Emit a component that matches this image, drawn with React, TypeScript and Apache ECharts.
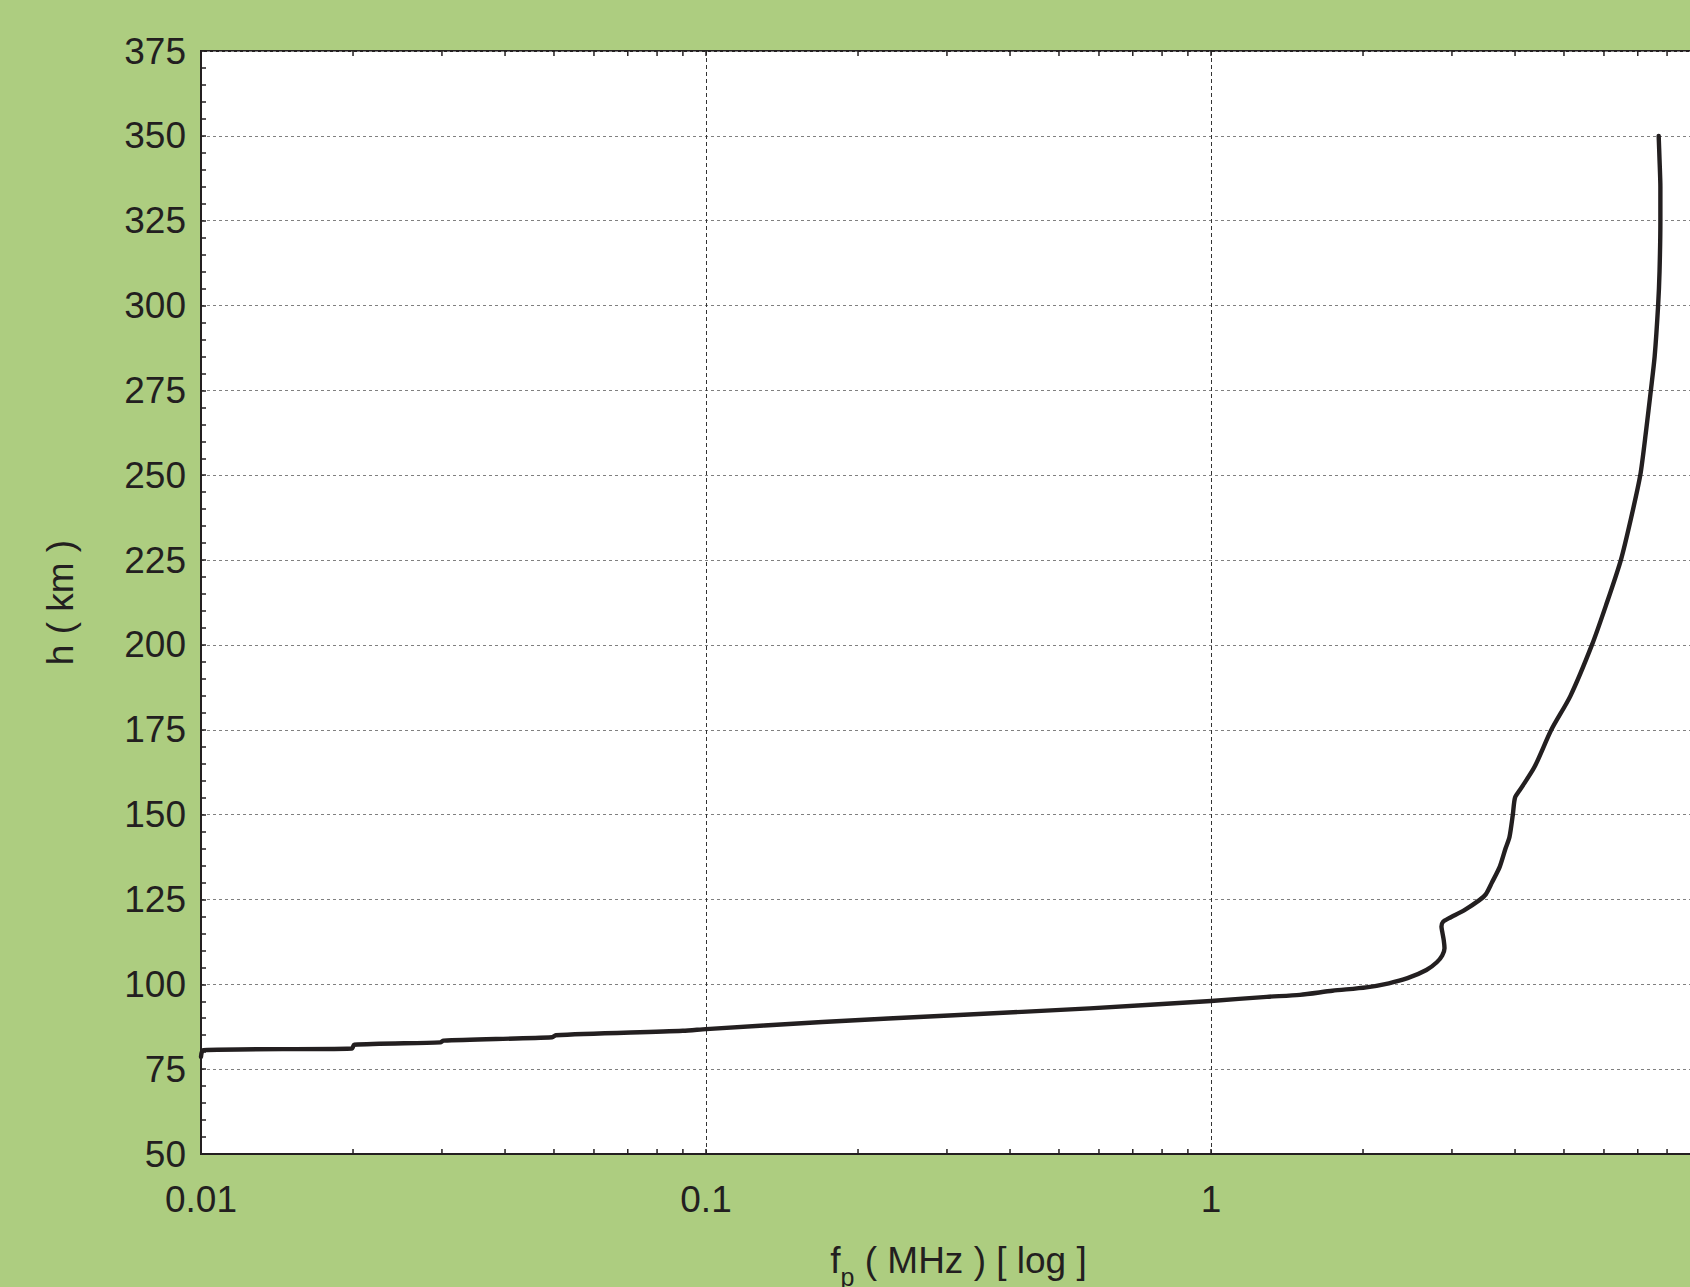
import React, { useEffect, useRef } from 'react';
import * as echarts from 'echarts';

// Plasma frequency (MHz) vs height (km)
const freqMHz = [
  0.0100, 0.0101, 0.0199, 0.0201, 0.0298, 0.0302, 0.0496, 0.0504, 0.09, 0.1,
  0.17, 0.31, 0.575, 1.0, 1.29, 1.5, 1.74, 2.03, 2.25, 2.45,
  2.67, 2.80, 2.87, 2.90, 2.89, 2.87, 2.86, 2.88, 2.96, 3.17,
  3.40, 3.50, 3.60, 3.73, 3.83, 3.90, 3.96, 4.00, 4.10, 4.37,
  4.72, 5.15, 5.68, 6.06, 6.48, 6.79, 7.08, 7.27, 7.43, 7.56,
  7.68, 7.73, 7.76, 7.76, 7.73, 7.70,
];
const heightKm = [
  78.6, 80.6, 81.1, 82.2, 82.9, 83.4, 84.4, 85.0, 86.3, 86.8,
  88.9, 90.9, 92.9, 95.1, 96.3, 96.9, 98.1, 99.1, 100.3, 101.8,
  104.2, 106.5, 108.5, 110.6, 113.0, 115.5, 117.0, 118.4, 119.5, 121.8,
  124.8, 126.5, 130.0, 134.6, 140.0, 143.4, 150.0, 155.0, 157.5, 164.0,
  175.0, 185.0, 200.0, 211.8, 225.0, 237.4, 250.0, 263.1, 275.0, 285.0,
  300.0, 310.0, 325.0, 335.0, 343.0, 350.0,
];

const xTickValues = [
  0.01, 0.02, 0.03, 0.04, 0.05, 0.06, 0.07, 0.08, 0.09,
  0.1, 0.2, 0.3, 0.4, 0.5, 0.6, 0.7, 0.8, 0.9,
  1, 2, 3, 4, 5, 6, 7, 8, 9, 10,
];

const X_MIN = 0.01;
const X_MAX = 10;
const Y_MIN = 50;
const Y_MAX = 375;
const Y_STEP = 25;

const GREEN = '#adcd80';
const INK = '#231f20';
const FONT = '"Liberation Sans", Arial, Helvetica, sans-serif';

export default function App() {
  const ref = useRef<HTMLDivElement>(null);

  useEffect(() => {
    if (!ref.current) return;
    const chart = echarts.init(ref.current, null, { renderer: 'svg' });
    const lineData = freqMHz.map((f, i) => [f, heightKm[i]]);
    const tickData = xTickValues.map((v) => [v, Y_MIN]);

    chart.setOption({
      animation: false,
      backgroundColor: GREEN,
      textStyle: { fontFamily: FONT },
      grid: {
        left: 201,
        top: 51,
        width: 1515,
        height: 1103,
        outerBoundsMode: 'none',
        containLabel: false,
        show: true,
        backgroundColor: '#ffffff',
        borderColor: INK,
        borderWidth: 2,
      },
      xAxis: {
        type: 'log',
        logBase: 10,
        min: X_MIN,
        max: X_MAX,
        name: '{f|f}{p|p}{t| ( MHz ) [ log ]}',
        nameLocation: 'middle',
        nameGap: 77,
        nameTextStyle: {
          color: INK,
          fontFamily: FONT,
          rich: {
            f: { fontSize: 37, lineHeight: 58, color: INK, fontFamily: FONT },
            p: { fontSize: 25, lineHeight: 25, verticalAlign: 'bottom', color: INK, fontFamily: FONT },
            t: { fontSize: 37, lineHeight: 58, color: INK, fontFamily: FONT },
          },
        },
        axisLine: { show: true, lineStyle: { color: INK, width: 2 } },
        axisTick: { show: false },
        axisLabel: { fontSize: 37, color: INK, margin: 27, fontFamily: FONT, showMaxLabel: false },
        splitLine: { show: true, lineStyle: { color: '#333333', width: 1, type: [4, 3] } },
      },
      yAxis: {
        type: 'value',
        min: Y_MIN,
        max: Y_MAX,
        interval: Y_STEP,
        name: 'h ( km )',
        nameLocation: 'middle',
        nameGap: 122,
        nameTextStyle: { fontSize: 37, color: INK, fontFamily: FONT },
        axisLine: { show: true, lineStyle: { color: INK, width: 2 } },
        axisTick: { show: true, inside: true, length: 5, lineStyle: { color: INK, width: 1.5 } },
        minorTick: { show: true, splitNumber: 5, length: 5, lineStyle: { color: INK, width: 1.5 } },
        axisLabel: { fontSize: 37, color: INK, margin: 15, fontFamily: FONT },
        splitLine: { show: true, lineStyle: { color: '#808080', width: 1.2, type: [3, 3] } },
      },
      series: [
        {
          type: 'custom',
          silent: true,
          z: 5,
          encode: { x: 0, y: 1 },
          data: tickData,
          renderItem: (params: any, api: any) => {
            const v = api.value(0);
            const b = api.coord([v, Y_MIN]);
            const t = api.coord([v, Y_MAX]);
            const style = { stroke: INK, lineWidth: 1.5 };
            return {
              type: 'group',
              children: [
                { type: 'line', shape: { x1: b[0], y1: b[1], x2: b[0], y2: b[1] - 5 }, style },
                { type: 'line', shape: { x1: t[0], y1: t[1], x2: t[0], y2: t[1] + 5 }, style },
              ],
            };
          },
        },
        {
          type: 'line',
          data: lineData,
          showSymbol: false,
          symbol: 'none',
          smooth: 0.25,
          z: 10,
          lineStyle: { color: INK, width: 4.4, cap: 'round', join: 'round' },
        },
      ],
    });

    return () => chart.dispose();
  }, []);

  return (
    <div
      style={{
        position: 'fixed',
        left: 0,
        top: 0,
        width: 1690,
        height: 1287,
        overflow: 'hidden',
        background: GREEN,
      }}
    >
      <div ref={ref} style={{ width: 1800, height: 1287 }} />
    </div>
  );
}
